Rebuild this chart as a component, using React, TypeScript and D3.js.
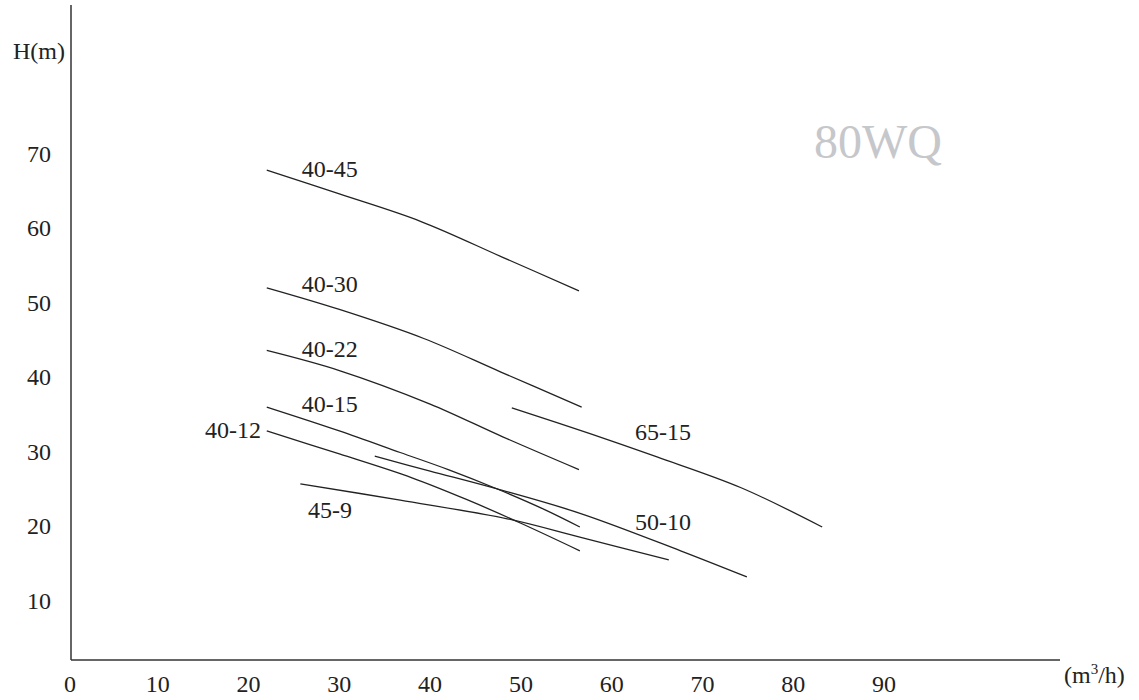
import React from "react";
import * as d3 from "d3";

const xTicks = [0, 10, 20, 30, 40, 50, 60, 70, 80, 90];
const yTicks = [10, 20, 30, 40, 50, 60, 70];

const seriesNames = ["40-45", "40-30", "40-22", "40-15", "40-12", "50-10", "45-9", "65-15"];

const s40_45: [number, number][] = [[22, 67.7], [30, 64.5], [39, 60.8], [48, 56.0], [56.4, 51.5]];
const s40_30: [number, number][] = [[22, 51.9], [30, 49.0], [39.3, 45.1], [47.8, 40.6], [56.7, 35.9]];
const s40_22: [number, number][] = [[22, 43.5], [30, 40.8], [40, 36.3], [48, 31.9], [56.4, 27.5]];
const s40_15: [number, number][] = [[22, 35.9], [30, 32.7], [36.7, 29.8], [42, 27.5], [47.4, 24.9], [52.5, 22.2], [56.5, 19.8]];
const s40_12: [number, number][] = [[22, 32.7], [30, 29.6], [38, 26.4], [44, 23.5], [50, 20.3], [56.5, 16.6]];
const s50_10: [number, number][] = [[33.9, 29.3], [40, 27.3], [47.4, 24.9], [56.6, 21.6], [67.6, 16.6], [74.9, 13.1]];
const s45_9: [number, number][] = [[25.7, 25.6], [36.7, 23.4], [48.5, 20.9], [56.6, 18.4], [66.3, 15.4]];
const s65_15: [number, number][] = [[49, 35.8], [57.7, 32.3], [65, 29.2], [74.2, 25.1], [83.2, 19.8]];

export default function App() {
  const W = 1139;
  const H = 700;
  const x = d3.scaleLinear().domain([0, 90]).range([67.1, 883.9]);
  const y = d3.scaleLinear().domain([0, 70]).range([674.5, 153]);
  const line = d3
    .line<[number, number]>()
    .x((d) => x(d[0]))
    .y((d) => y(d[1]))
    .curve(d3.curveCatmullRom.alpha(0.5));

  const series = [s40_45, s40_30, s40_22, s40_15, s40_12, s50_10, s45_9, s65_15];
  const labels: { name: string; q: number; h: number }[] = [
    { name: seriesNames[0], q: x.invert(301.7), h: y.invert(177) },
    { name: seriesNames[1], q: x.invert(301.7), h: y.invert(292) },
    { name: seriesNames[2], q: x.invert(301.7), h: y.invert(357) },
    { name: seriesNames[3], q: x.invert(301.7), h: y.invert(412) },
    { name: seriesNames[4], q: x.invert(205), h: y.invert(437.5) },
    { name: seriesNames[5], q: x.invert(635), h: y.invert(530) },
    { name: seriesNames[6], q: x.invert(308), h: y.invert(518) },
    { name: seriesNames[7], q: x.invert(635), h: y.invert(440) },
  ];

  const font = "'Liberation Serif', 'Times New Roman', serif";
  const axisX = 71;
  const axisY = 660;

  return (
    <svg
      width={W}
      height={H}
      style={{ position: "absolute", left: 0, top: 0, background: "#fff" }}
      fontFamily={font}
    >
      <line x1={axisX} y1={5} x2={axisX} y2={axisY} stroke="#333" strokeWidth={1.5} />
      <line x1={axisX} y1={axisY} x2={1060} y2={axisY} stroke="#333" strokeWidth={1.5} />

      {yTicks.map((t) => (
        <text key={"y" + t} x={51} y={y(t) + 8.5} textAnchor="end" fontSize={24} fill="#222">
          {t}
        </text>
      ))}
      {xTicks.map((t) => (
        <text key={"x" + t} x={x(t) + (t === 0 ? 3 : 0)} y={692} textAnchor="middle" fontSize={24} fill="#222">
          {t}
        </text>
      ))}

      <text x={65} y={59} textAnchor="end" fontSize={24} fill="#222">
        H(m)
      </text>
      <text x={1064} y={683} fontSize={24} fill="#222">
        (m<tspan dy={-9} fontSize={15}>3</tspan>
        <tspan dy={9}>/h)</tspan>
      </text>

      <text x={814} y={158} fontSize={48} fill="#c6c7cb">
        80WQ
      </text>

      {series.map((s, i) => (
        <path key={"s" + i} d={line(s) || ""} fill="none" stroke="#222" strokeWidth={1.3} />
      ))}

      {labels.map((l) => (
        <text key={l.name} x={x(l.q)} y={y(l.h)} fontSize={24} fill="#222">
          {l.name}
        </text>
      ))}
    </svg>
  );
}
